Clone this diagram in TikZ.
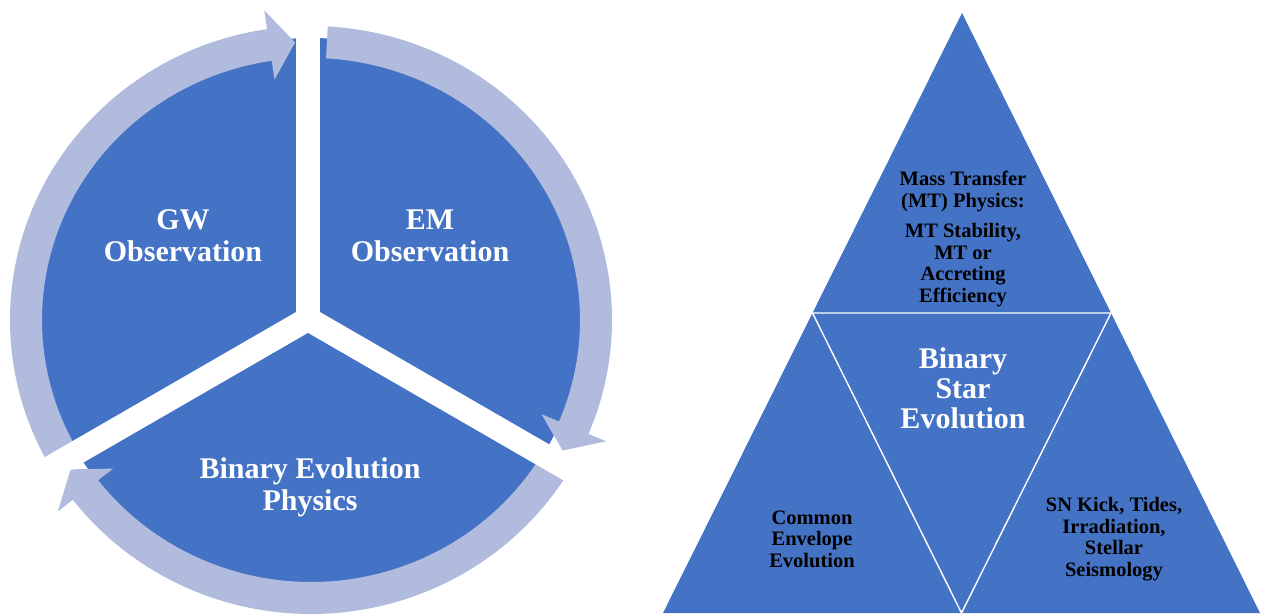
\documentclass[tikz,border=0pt]{standalone}
\usepackage{fontspec}
\setmainfont{Liberation Serif}
\usetikzlibrary{positioning, calc}
\definecolor{pieblue}{RGB}{68,114,196}
\definecolor{ringblue}{RGB}{176,187,221}

\tikzstyle{Wedge} = [fill=pieblue]
\tikzstyle{Ring} = [fill=ringblue]
\tikzstyle{Gap} = [draw=white, line width=12pt]
\tikzstyle{Split} = [draw=white, line width=0.7pt, line join=bevel]
\tikzstyle{Cycle} = [text=white, align=center,
  font=\fontsize{15}{16}\selectfont\bfseries]
\tikzstyle{Core} = [text=white, align=center,
  font=\fontsize{15}{15}\selectfont\bfseries]
\tikzstyle{Corner} = [text=black, align=center,
  font=\fontsize{10.25}{10.75}\selectfont\bfseries]

% ring centre and radii (outer, middle, inner, head out, head in)
\def\rcx{311} \def\rcy{295}
\def\rox{301} \def\roy{294}
\def\rmx{285} \def\rmy{278}
\def\rix{269} \def\riy{262}
\def\rhx{320} \def\rhy{313}
\def\rkx{250} \def\rky{243}

% #1 name, #2 tail angle, #3 head base angle, #4 tip angle
\newcommand{\cyclearrow}[4]{%
  \fill[Ring] ({\rcx+\rox*cos(#2)},{\rcy+\roy*sin(#2)})
    arc[start angle=#2, end angle=#3, x radius=\rox, y radius=\roy]
    -- ({\rcx+\rhx*cos(#3)},{\rcy+\rhy*sin(#3)})
    -- ({\rcx+\rmx*cos(#4)},{\rcy+\rmy*sin(#4)}) coordinate (#1)
    -- ({\rcx+\rkx*cos(#3)},{\rcy+\rky*sin(#3)})
    -- ({\rcx+\rix*cos(#3)},{\rcy+\riy*sin(#3)})
    arc[start angle=#3, end angle=#2, x radius=\rix, y radius=\riy]
    -- cycle;}

\begin{document}
\begin{tikzpicture}[x=0.5pt, y=0.5pt]
    \useasboundingbox (0,0) rectangle (1261,615);

    % cycle on the left
    \fill[Wedge] (311,303) ellipse [x radius=272, y radius=274];
    \cyclearrow{tipgw}{210}{98.4}{93.2}
    \cyclearrow{tipem}{86.8}{-22.8}{-28}
    \cyclearrow{tipbin}{330}{217.7}{212.5}
    \coordinate (hub) at (308,296);
    \draw[Gap] (hub) -- ++(90:330);
    \draw[Gap] (hub) -- ++(210:330);
    \draw[Gap] (hub) -- ++(330:330);

    \node[Cycle] (gw) at (183,379) {GW\\Observation};
    \node[Cycle] (em) at (430,379) {EM\\Observation};
    \node[Cycle] (bin) at (310,128) {Binary Evolution\\Physics};

    % pyramid on the right
    \coordinate (top) at (962,602);
    \coordinate (bl) at (663,2);
    \coordinate (br) at (1260,2);
    \fill[Wedge] (bl) -- (top) -- (br) -- cycle;
    \draw[Split] ($(bl)!0.5!(top)$) -- ($(top)!0.5!(br)$)
      -- ($(bl)!0.5!(br)$) -- cycle;

    \node[Corner] (mt) at (963,376) {Mass Transfer\\(MT) Physics:\\[4.5pt]
      MT Stability,\\MT or\\Accreting\\Efficiency};
    \node[Core] (bse) at (963,227) {Binary\\Star\\Evolution};
    \node[Corner] (ce) at (812,76) {Common\\Envelope\\Evolution};
    \node[Corner] (sn) at (1114,76) {SN Kick, Tides,\\Irradiation,\\Stellar\\Seismology};
\end{tikzpicture}
\end{document}
